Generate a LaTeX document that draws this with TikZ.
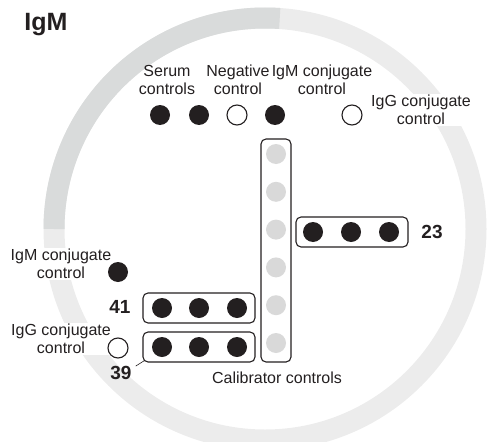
\documentclass[tikz,border=0pt]{standalone}
\usepackage{fontspec}
\setmainfont{Liberation Sans}
\definecolor{ink}{HTML}{231F20}
\definecolor{ringdark}{HTML}{D9DBDB}
\definecolor{ringlight}{HTML}{ECECEC}
\definecolor{calgrey}{HTML}{D9D9D9}
\begin{document}
\begin{tikzpicture}[x=1pt,y=-1pt,
  well/.style={circle,minimum size=20pt,inner sep=0pt},
  fullwell/.style={well,fill=ink},
  openwell/.style={well,draw=ink,line width=1.1pt,fill=white},
  calwell/.style={well,fill=calgrey},
  strip/.style={draw=ink,line width=1.1pt,rounded corners=5pt,minimum width=112pt,minimum height=30pt},
  lbl/.style={align=center,text=ink,font=\fontsize{16}{17.5}\selectfont,inner sep=1pt},
  num/.style={text=ink,font=\bfseries\fontsize{19}{19}\selectfont,inner sep=0pt}]
\useasboundingbox (0,0) rectangle (494,441);
% ring
\begin{scope}
\clip (0,0) rectangle (494,441);
\coordinate (ring) at (265,229);
\draw[ringlight,line width=21pt] (ring) circle[radius=211];
\draw[ringdark,line width=21pt] (ring) ++(180:211) arc[start angle=180,end angle=274,radius=211];
\end{scope}
\node[text=ink,font=\bfseries\fontsize{25}{25}\selectfont] (title) at (46,25) {IgM};
% top row
\node[lbl] (serum) at (167,80) {Serum\\controls};
\node[lbl] (neg) at (238,80) {Negative\\control};
\node[lbl] (igmtop) at (322,80) {IgM conjugate\\control};
\node[lbl,fill=white] (iggtop) at (421,110) {IgG conjugate\\control};
\foreach \x/\s [count=\i] in {160/fullwell,199/fullwell,237/openwell,275/fullwell,352/openwell}
  \node[\s] (top\i) at (\x,115) {};
% calibrators
\node[strip,minimum width=30pt,minimum height=223pt] (calstrip) at (276,250.5) {};
\foreach \i in {0,...,5}
  \node[calwell] (cal\i) at (276,154+37.8*\i) {};
\node[lbl] (calib) at (277,378) {Calibrator controls};
% strips
\node[strip] (s23) at (352,232) {};
\foreach \x [count=\i] in {313,351,389} \node[fullwell] (w23\i) at (\x,232) {};
\node[strip] (s41) at (199,308) {};
\foreach \x [count=\i] in {162,199,237} \node[fullwell] (w41\i) at (\x,308) {};
\node[strip] (s39) at (199,347) {};
\foreach \x [count=\i] in {162,199,237} \node[fullwell] (w39\i) at (\x,347) {};
\node[num] (n23) at (432,232) {23};
\node[num] (n41) at (120,307) {41};
\node[num] (n39) at (121,373) {39};
\draw[ink,line width=0.6pt] ([xshift=4pt]n39.north east) -- ([shift={(2,-2)}]s39.south west);
% left side
\node[lbl,fill=white] (igmlbl) at (61,264) {IgM conjugate\\control};
\node[lbl,fill=white] (igglbl) at (61,339) {IgG conjugate\\control};
\node[fullwell] (igmleft) at (118,272) {};
\node[openwell] (iggleft) at (118,348) {};
\end{tikzpicture}
\end{document}
